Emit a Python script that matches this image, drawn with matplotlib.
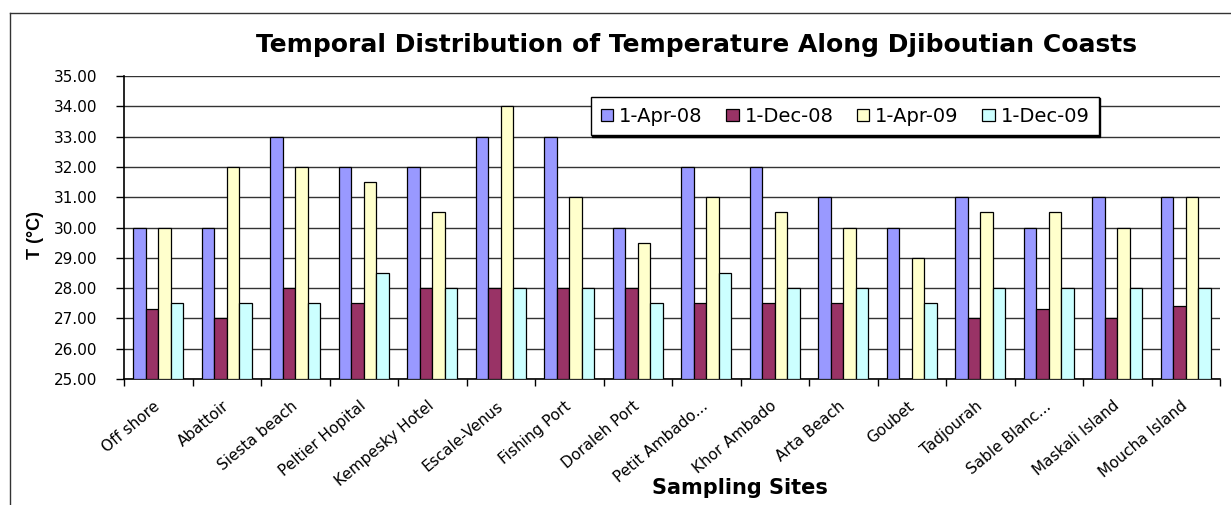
import numpy as np
import matplotlib.pyplot as plt
from matplotlib.lines import Line2D

plt.rcParams['font.family'] = ['DejaVu Sans']

sites = ["Off shore", "Abattoir", "Siesta beach", "Peltier Hopital", "Kempesky Hotel",
         "Escale-Venus", "Fishing Port", "Doraleh Port", "Petit Ambado...", "Khor Ambado",
         "Arta Beach", "Goubet", "Tadjourah", "Sable Blanc...", "Maskali Island", "Moucha Island"]
series_names = ["1-Apr-08", "1-Dec-08", "1-Apr-09", "1-Dec-09"]

apr08 = [30, 30, 33, 32, 32, 33, 33, 30, 32, 32, 31, 30, 31, 30, 31, 31]
dec08 = [27.3, 27, 28, 27.5, 28, 28, 28, 28, 27.5, 27.5, 27.5, np.nan, 27, 27.3, 27, 27.4]
apr09 = [30, 32, 32, 31.5, 30.5, 34, 31, 29.5, 31, 30.5, 30, 29, 30.5, 30.5, 30, 31]
dec09 = [27.5, 27.5, 27.5, 28.5, 28, 28, 28, 27.5, 28.5, 28, 28, 27.5, 28, 28, 28, 28]

colors = ["#9999FF", "#993366", "#FFFFCC", "#CCFFFF"]

fig = plt.figure(figsize=(12.31, 5.05), dpi=100)
ax = fig.add_axes([124 / 1231, 1 - 379 / 505, (1220 - 124) / 1231, (379 - 76) / 505])

x = np.arange(len(sites)) + 0.5
w = 0.183
for i, vals in enumerate([apr08, dec08, apr09, dec09]):
    v = np.array(vals, dtype=float)
    ax.bar(x + (i - 1.5) * w, v - 25, bottom=25, width=w, color=colors[i],
           edgecolor="black", linewidth=0.9, label=series_names[i], zorder=3)

ax.set_xlim(0, len(sites))
ax.set_ylim(25, 35)
ax.set_yticks(np.arange(25, 35.01, 1))
ax.set_yticklabels([f"{t:.2f}" for t in np.arange(25, 35.01, 1)], fontsize=11)
ax.yaxis.grid(True, color="#333333", linewidth=1, zorder=0)
ax.tick_params(axis='y', direction='out', length=6, width=1, pad=13, colors="black")

ax.set_xticks(x)
ax.set_xticklabels(sites, rotation=40, ha='right', va='center', rotation_mode='anchor', fontsize=11)
ax.set_xticks(np.arange(0, len(sites) + 1), minor=True)
ax.tick_params(axis='x', which='major', length=0, pad=18)
ax.tick_params(axis='x', which='minor', direction='out', length=5, width=1)

for s in ["top", "right"]:
    ax.spines[s].set_visible(False)
for s in ["left", "bottom"]:
    ax.spines[s].set_linewidth(1.2)

leg = ax.legend(loc='upper left', bbox_to_anchor=((591 - 124) / 1096, 1 - (97 - 76) / 303),
                ncol=4, fontsize=14, frameon=True, fancybox=False,
                shadow={'color': 'black', 'alpha': 1.0, 'ox': 1, 'oy': -1},
                handlelength=0.65, handleheight=0.6, handletextpad=0.3, columnspacing=1.2,
                borderpad=0.5, borderaxespad=0)
leg.get_frame().set_edgecolor("black")
leg.get_frame().set_linewidth(1.0)

fig.text(696 / 1231, 1 - 45 / 505, "Temporal Distribution of Temperature Along Djiboutian Coasts",
         ha='center', va='center', fontsize=18, fontweight='bold')
fig.text(740 / 1231, 1 - 488 / 505, "Sampling Sites", ha='center', va='center',
         fontsize=15, fontweight='bold')
fig.text(35 / 1231, 1 - 235 / 505, "T (°C)", ha='center', va='center', rotation=90,
         fontsize=13, fontweight='bold', family='Liberation Sans')

# outer chart frame (top and left edges visible)
fig.add_artist(Line2D([10 / 1231, 10 / 1231], [0, 1 - 13 / 505], transform=fig.transFigure,
                      color="#333333", linewidth=1))
fig.add_artist(Line2D([10 / 1231, 1], [1 - 13 / 505, 1 - 13 / 505], transform=fig.transFigure,
                      color="#333333", linewidth=1))

fig.savefig("out.png", dpi=100)
